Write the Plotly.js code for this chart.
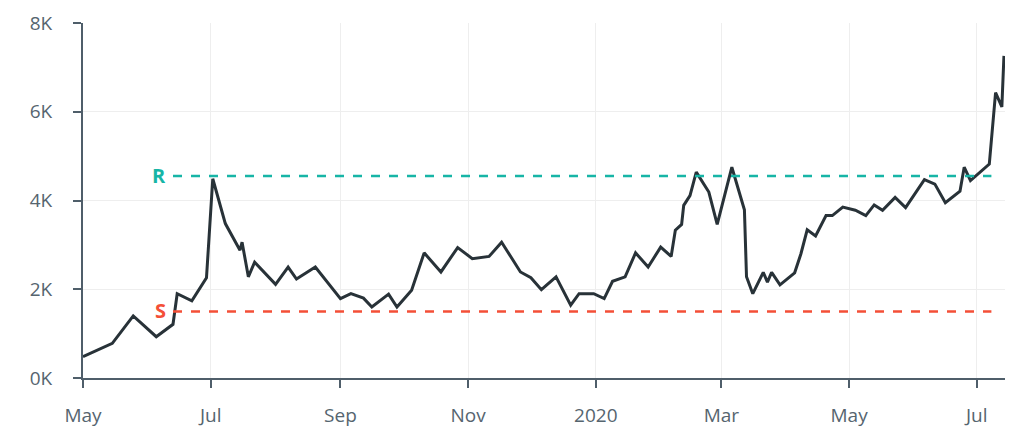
<!DOCTYPE html>
<html>
<head>
<meta charset="utf-8">
<script src="https://cdn.plot.ly/plotly-3.0.1.min.js"></script>
<style>html,body{margin:0;padding:0;background:#fff;}#chart{width:1024px;height:446px;}</style>
</head>
<body>
<div id="chart"></div>
<script>
const dates = [
'2019-05-01','2019-05-15','2019-05-25','2019-06-05','2019-06-13','2019-06-15','2019-06-22','2019-06-29',
'2019-07-02','2019-07-08','2019-07-15','2019-07-16','2019-07-19','2019-07-22','2019-08-01','2019-08-07',
'2019-08-11','2019-08-20','2019-09-01','2019-09-06','2019-09-12','2019-09-16','2019-09-24','2019-09-28',
'2019-10-05','2019-10-11','2019-10-19','2019-10-27','2019-11-03','2019-11-11','2019-11-17','2019-11-26',
'2019-12-01','2019-12-06','2019-12-13','2019-12-16','2019-12-20','2019-12-24','2019-12-31','2020-01-05',
'2020-01-09','2020-01-15','2020-01-20','2020-01-26','2020-02-01','2020-02-06','2020-02-08','2020-02-11',
'2020-02-12','2020-02-15','2020-02-18','2020-02-24','2020-02-28','2020-03-06','2020-03-10','2020-03-12',
'2020-03-13','2020-03-16','2020-03-21','2020-03-23','2020-03-25','2020-03-29','2020-04-05','2020-04-08',
'2020-04-11','2020-04-15','2020-04-20','2020-04-23','2020-04-28','2020-05-04','2020-05-09','2020-05-13',
'2020-05-17','2020-05-23','2020-05-28','2020-06-06','2020-06-11','2020-06-16','2020-06-23','2020-06-25',
'2020-06-28','2020-07-07','2020-07-10','2020-07-13','2020-07-14'
];
const values = [
480,780,1400,930,1210,1900,1740,2260,
4490,3480,2880,3060,2280,2610,2110,2500,
2230,2500,1790,1900,1800,1600,1890,1600,
1980,2820,2390,2940,2690,2740,3060,2390,
2260,1990,2280,2010,1640,1900,1900,1790,
2180,2280,2820,2500,2950,2740,3330,3460,
3890,4110,4640,4190,3460,4750,4070,3790,
2280,1900,2380,2160,2380,2100,2370,2800,
3340,3200,3660,3660,3850,3780,3660,3900,
3780,4070,3840,4470,4370,3950,4210,4750,
4450,4820,6430,6110,7260
];
const resistance = 4550;
const support = 1500;
const levelStart = '2019-06-13';
const levelEnd = '2020-07-08';
const xTickVals = ['2019-05-01','2019-07-01','2019-09-01','2019-11-01','2020-01-01','2020-03-01','2020-05-01','2020-07-01'];
const xTickText = ['May','Jul','Sep','Nov','2020','Mar','May','Jul'];
const yTickVals = [0,2000,4000,6000,8000];
const yTickText = ['0K','2K','4K','6K','8K'];

const tealC = '#17b5a6';
const redC = '#f44f37';

const traces = [
  {x: dates, y: values, type: 'scatter', mode: 'lines',
   line: {color: '#283238', width: 3}, hoverinfo: 'skip'},
  {x: [levelStart, levelEnd], y: [resistance, resistance], type: 'scatter', mode: 'lines',
   line: {color: tealC, width: 2.5, dash: 'dash'}, hoverinfo: 'skip'},
  {x: [levelStart, levelEnd], y: [support, support], type: 'scatter', mode: 'lines',
   line: {color: redC, width: 2.5, dash: 'dash'}, hoverinfo: 'skip'}
];

const layout = {
  width: 1024, height: 446,
  margin: {l: 83, r: 19, t: 23, b: 68},
  paper_bgcolor: '#fff', plot_bgcolor: '#fff',
  showlegend: false,
  font: {family: '"Open Sans", sans-serif', size: 19, color: '#56656f'},
  xaxis: {
    type: 'date', range: ['2019-05-01', '2020-07-14 12:00'],
    tickvals: xTickVals, ticktext: xTickText,
    showgrid: true, gridcolor: '#eeeeee', gridwidth: 1,
    showline: true, linecolor: '#4f5e6a', linewidth: 2,
    ticks: 'outside', ticklen: 8, tickcolor: '#4f5e6a', tickwidth: 2,
    ticklabelstandoff: 11,
    zeroline: false, fixedrange: true
  },
  yaxis: {
    range: [0, 8000],
    tickvals: yTickVals, ticktext: yTickText,
    showgrid: true, gridcolor: '#eeeeee', gridwidth: 1,
    showline: true, linecolor: '#4f5e6a', linewidth: 2,
    ticks: 'outside', ticklen: 8, tickcolor: '#4f5e6a', tickwidth: 2,
    ticklabelstandoff: 17,
    zeroline: false, fixedrange: true
  },
  annotations: [
    {x: levelStart, y: resistance, xref: 'x', yref: 'y', text: '<b>R</b>', showarrow: false,
     xanchor: 'right', yanchor: 'middle', xshift: -5, yshift: 1, font: {color: tealC, size: 20, family: '"Open Sans", sans-serif'}},
    {x: levelStart, y: support, xref: 'x', yref: 'y', text: '<b>S</b>', showarrow: false,
     xanchor: 'right', yanchor: 'middle', xshift: -5, yshift: 1, font: {color: redC, size: 20, family: '"Open Sans", sans-serif'}}
  ]
};

Plotly.newPlot('chart', traces, layout, {displayModeBar: false, staticPlot: true});
</script>
</body>
</html>
